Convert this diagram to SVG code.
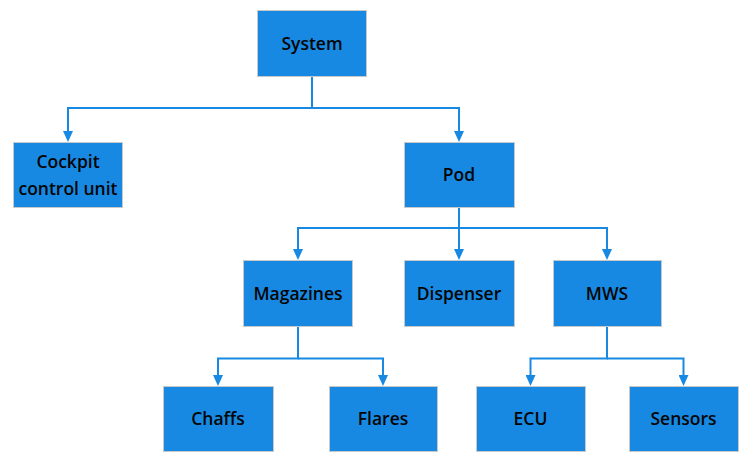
<svg xmlns="http://www.w3.org/2000/svg" width="745" height="461" viewBox="0 0 745 461">
<style>
.box{fill:#1789e3;stroke:#c8c8c8;stroke-width:1}
.lbl{font-family:"Open Sans","Noto Sans","Liberation Sans",sans-serif;font-size:17.5px;font-weight:600;fill:#050505;text-anchor:middle}
.edge{fill:none;stroke:#1789e3;stroke-width:2}
</style>
<defs>
<marker id="arr" viewBox="0 0 11 10" refX="0" refY="5" markerWidth="11" markerHeight="10" markerUnits="userSpaceOnUse" orient="auto">
<path d="M0,0 L11,5 L0,10 z" fill="#1789e3"/>
</marker>
</defs>
<rect width="745" height="461" fill="#ffffff"/>
<g id="connectors">
<path class="edge" d="M312 76 V108 H68 V131" marker-end="url(#arr)"/>
<path class="edge" d="M312 108 H459 V131" marker-end="url(#arr)"/>
<path class="edge" d="M459 207 V228 H298 V249" marker-end="url(#arr)"/>
<path class="edge" d="M459 228 V249" marker-end="url(#arr)"/>
<path class="edge" d="M459 228 H607 V249" marker-end="url(#arr)"/>
<path class="edge" d="M298 326 V358.5 H218 V375" marker-end="url(#arr)"/>
<path class="edge" d="M298 358.5 H383 V375" marker-end="url(#arr)"/>
<path class="edge" d="M607 326 V358.5 H530.5 V375" marker-end="url(#arr)"/>
<path class="edge" d="M607 358.5 H683.5 V375" marker-end="url(#arr)"/>
</g>
<g id="system"><rect class="box" x="257.5" y="10.5" width="109" height="66"/><text class="lbl" x="312" y="50">System</text></g>
<g id="cockpit"><rect class="box" x="13.5" y="142.5" width="109" height="65"/><text class="lbl" x="68" y="168">Cockpit</text><text class="lbl" x="68" y="195">control unit</text></g>
<g id="pod"><rect class="box" x="404.5" y="142.5" width="110" height="65"/><text class="lbl" x="459" y="181">Pod</text></g>
<g id="magazines"><rect class="box" x="243.5" y="260.5" width="109" height="66"/><text class="lbl" x="298" y="300">Magazines</text></g>
<g id="dispenser"><rect class="box" x="404.5" y="260.5" width="110" height="66"/><text class="lbl" x="459" y="300">Dispenser</text></g>
<g id="mws"><rect class="box" x="553.5" y="260.5" width="108" height="66"/><text class="lbl" x="607" y="300">MWS</text></g>
<g id="chaffs"><rect class="box" x="163.5" y="386.5" width="110" height="65"/><text class="lbl" x="218" y="425">Chaffs</text></g>
<g id="flares"><rect class="box" x="329.5" y="386.5" width="108" height="65"/><text class="lbl" x="383" y="425">Flares</text></g>
<g id="ecu"><rect class="box" x="476.5" y="386.5" width="109" height="65"/><text class="lbl" x="530.5" y="425">ECU</text></g>
<g id="sensors"><rect class="box" x="629.5" y="386.5" width="109" height="65"/><text class="lbl" x="683.5" y="425">Sensors</text></g>
</svg>
